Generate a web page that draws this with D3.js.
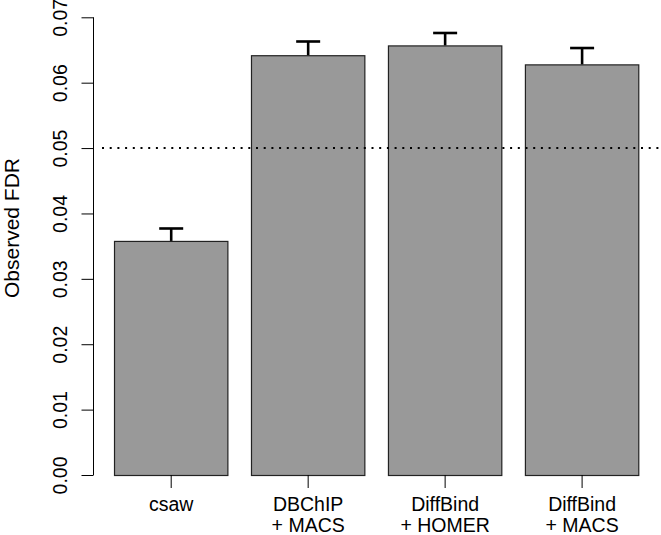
<!DOCTYPE html>
<html>
<head>
<meta charset="utf-8">
<script src="https://cdn.jsdelivr.net/npm/d3@7"></script>
<style>
  html, body { margin: 0; padding: 0; background: #fff; }
  svg { display: block; }
  text { font-family: "Liberation Sans", Arial, Helvetica, sans-serif; fill: #000; }
</style>
</head>
<body>
<script>
const categories = ["csaw", "DBChIP\n+ MACS", "DiffBind\n+ HOMER", "DiffBind\n+ MACS"];
const fdrValues = [0.0358, 0.0642, 0.0657, 0.0628];
const errorUpper = [0.0377, 0.0663, 0.0676, 0.0653];
const yTicks = [0, 0.01, 0.02, 0.03, 0.04, 0.05, 0.06, 0.07];
const thresholdValue = 0.05;
const yTitle = "Observed FDR";

const W = 661, H = 535;
const svg = d3.select("body").append("svg").attr("width", W).attr("height", H);

const y = d3.scaleLinear().domain([0, 0.07]).range([475, 17.3]);
const x = d3.scaleBand().domain(categories).range([114 - 22.7 * 0.5, 639.3 + 22.7 * 0.5])
  .paddingInner(0.165).paddingOuter(0.083);

// bars
svg.append("g").selectAll("rect").data(categories).join("rect")
  .attr("x", d => x(d) + 0.5)
  .attr("y", (d, i) => y(fdrValues[i]) + 0.5)
  .attr("width", x.bandwidth() - 1)
  .attr("height", (d, i) => y(0) - y(fdrValues[i]))
  .attr("fill", "#999999")
  .attr("stroke", "#222")
  .attr("stroke-width", 1.2);

// error bars
const eb = svg.append("g").attr("stroke", "#000").attr("stroke-width", 2.6);
categories.forEach((c, i) => {
  const cx = x(c) + x.bandwidth() / 2;
  eb.append("line").attr("x1", cx).attr("x2", cx).attr("y1", y(fdrValues[i])).attr("y2", y(errorUpper[i]));
  eb.append("line").attr("x1", cx - 12).attr("x2", cx + 12).attr("y1", y(errorUpper[i])).attr("y2", y(errorUpper[i]));
});

// threshold dotted line
svg.append("line")
  .attr("x1", 102).attr("x2", W)
  .attr("y1", y(thresholdValue)).attr("y2", y(thresholdValue))
  .attr("stroke", "#000").attr("stroke-width", 2)
  .attr("stroke-dasharray", "2,5.7");

// y axis
const yAxis = d3.axisLeft(y).tickValues(yTicks).tickFormat(d3.format(".2f")).tickSize(12).tickPadding(0);
const ga = svg.append("g").attr("transform", "translate(93.5,0)").call(yAxis);
ga.select(".domain").attr("d", `M0,${y(0)}V${y(0.07)}`).attr("stroke", "#000");
ga.selectAll(".tick line").attr("stroke", "#000");
ga.selectAll(".tick text")
  .attr("transform", "rotate(-90)")
  .attr("x", 0).attr("y", -27)
  .attr("dy", 0)
  .attr("text-anchor", "middle")
  .style("font-size", "19.5px")
  .style("font-family", "'Liberation Sans', Arial, sans-serif");

// x axis ticks & labels
const gx = svg.append("g");
categories.forEach((c, i) => {
  const cx = x(c) + x.bandwidth() / 2;
  gx.append("line").attr("x1", cx).attr("x2", cx).attr("y1", 475).attr("y2", 488).attr("stroke", "#000");
  const lines = c.split("\n");
  const t = gx.append("text").attr("text-anchor", "middle").style("font-size", "19.5px");
  lines.forEach((l, k) => {
    t.append("tspan").attr("x", cx).attr("y", 510.5 + k * 21.5).text(l);
  });
});

// y title
svg.append("text")
  .attr("transform", `translate(19,228) rotate(-90)`)
  .attr("text-anchor", "middle")
  .style("font-size", "21px")
  .text(yTitle);
</script>
</body>
</html>
